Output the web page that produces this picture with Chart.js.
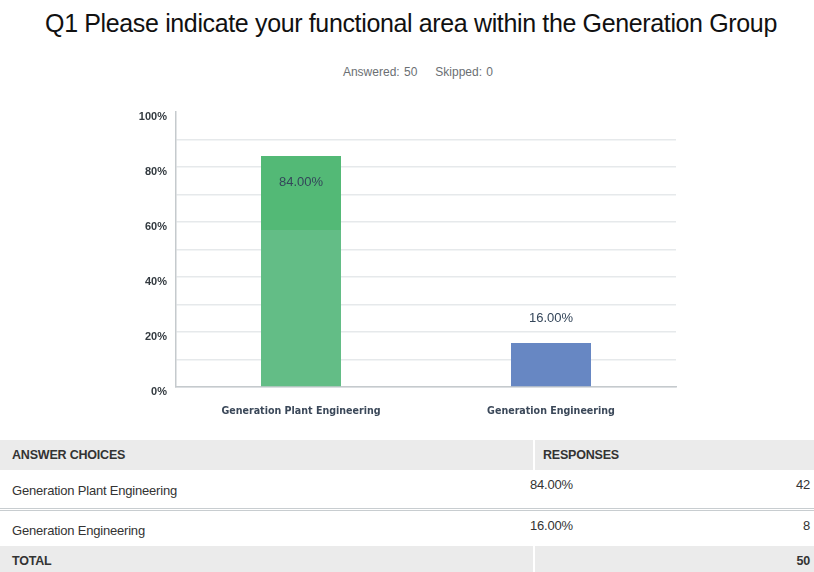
<!DOCTYPE html>
<html>
<head>
<meta charset="utf-8">
<script src="https://cdn.jsdelivr.net/npm/chart.js@4.4.1/dist/chart.umd.min.js"></script>
<style>
  body { margin: 0; width: 814px; height: 572px; background: #fff; position: relative; overflow: hidden; font-family: "Liberation Sans", Arial, sans-serif; }
  #title { position: absolute; top: 9px; left: 4px; width: 814px; text-align: center; font-size: 25px; color: #111; letter-spacing: -0.36px; }
  #sub { position: absolute; top: 65px; left: 0; width: 836px; text-align: center; font-size: 12px; color: #6b6f73; word-spacing: 1px; }
  #sub span { margin: 0 9px; }
  #chartBox { position: absolute; left: 0; top: 90px; width: 814px; height: 340px; }
  #tbl { position: absolute; left: 0; top: 440px; width: 814px; border-collapse: collapse; font-size: 13px; color: #333; line-height: 15px; letter-spacing: -0.2px; }
  #tbl td { padding: 0; vertical-align: middle; box-sizing: border-box; }
  #tbl tr.head td { background: #ebebeb; font-weight: bold; height: 30px; font-size: 12.5px; }
  #tbl tr.total td { background: #ebebeb; font-weight: bold; height: 27px; font-size: 12.5px; padding-top: 3px; }
  #tbl td.c1 { padding-left: 12px; width: 534px; }
  #tbl td.c2 { padding-left: 8px; border-left: 2px solid #fff; }
  #tbl td.c3 { text-align: right; padding-right: 4px; }
  #tbl tr.row td { height: 37px; }
  #tbl tr.row td.c2, #tbl tr.row td.c3 { vertical-align: top; padding-top: 7px; }
  #tbl tr.row td.c2 { border-left: none; padding-left: 0; }
  #tbl tr.row td.c2 span { margin-left: -4px; }
  #tbl tr.row td.c1 { padding-top: 4px; }
  #tbl tr.r1 td { border-bottom: 3px double #c8cdd0; height: 39px; }
</style>
</head>
<body>
<div id="title">Q1 Please indicate your functional area within the Generation Group</div>
<div id="sub"><span>Answered: 50</span><span>Skipped: 0</span></div>
<div id="chartBox"><canvas id="myChart" width="814" height="340"></canvas></div>
<table id="tbl"></table>
<script>
// datos del grafico
const categorias = ["Generation Plant Engineering", "Generation Engineering"];
const porcentajes = [84, 16];
const respuestas = [42, 8];
const total = 50;
const colores = ["#5bbb7e", "#6787c3"];
const yTicks = [0, 20, 40, 60, 80, 100];

// tabla de respuestas
let html = `<tr class="head"><td class="c1">ANSWER CHOICES</td><td class="c2">RESPONSES</td><td class="c3"></td></tr>`;
categorias.forEach((c, i) => {
    html += `<tr class="row r${i + 1}"><td class="c1">${c}</td><td class="c2"><span>${porcentajes[i].toFixed(2)}%</span></td><td class="c3">${respuestas[i]}</td></tr>`;
});
html += `<tr class="total"><td class="c1">TOTAL</td><td class="c2"></td><td class="c3">${total}</td></tr>`;
document.getElementById("tbl").innerHTML = html;

// etiquetas de valor sobre/dentro de las barras
const etiquetas = {
    id: "etiquetas",
    afterDatasetsDraw(chart) {
        const ctx = chart.ctx;
        const meta = chart.getDatasetMeta(0);
        ctx.save();
        ctx.font = "13px 'Liberation Sans', sans-serif";
        ctx.textAlign = "center";
        ctx.textBaseline = "middle";
        meta.data.forEach((bar, i) => {
            const v = porcentajes[i];
            const y = v > 50 ? bar.y + 26 : bar.y - 25;
            ctx.fillStyle = "#34465a";
            ctx.fillText(v.toFixed(2) + "%", bar.x, y);
        });
        ctx.restore();
    }
};

// la barra verde tiene dos tonos en el original
function colorBarra(c) {
    if (c.dataIndex !== 0) return colores[c.dataIndex];
    const chart = c.chart;
    const area = chart.chartArea;
    if (!area) return colores[0];
    const ys = chart.scales.y;
    const corte = (ys.getPixelForValue(57) - area.top) / (area.bottom - area.top);
    const g = chart.ctx.createLinearGradient(0, area.top, 0, area.bottom);
    g.addColorStop(0, "#53b976");
    g.addColorStop(corte, "#53b976");
    g.addColorStop(corte, "#63bd86");
    g.addColorStop(1, "#63bd86");
    return g;
}

const ctx = document.getElementById("myChart");
new Chart(ctx, {
    type: "bar",
    data: {
        labels: categorias,
        datasets: [{
            data: porcentajes,
            backgroundColor: colorBarra,
            borderWidth: 0,
            categoryPercentage: 1,
            barPercentage: 0.32
        }]
    },
    plugins: [etiquetas],
    options: {
        responsive: false,
        animation: false,
        devicePixelRatio: 1,
        layout: { padding: { top: 22, right: 138, left: 0, bottom: 0 } },
        plugins: { legend: { display: false }, tooltip: { enabled: false } },
        scales: {
            x: {
                grid: { display: false },
                border: { color: "#c5cacd", width: 1.5 },
                ticks: {
                    color: "#3b4859",
                    padding: 10,
                    maxRotation: 0,
                    font: { family: "'DejaVu Sans Condensed', 'Liberation Sans', sans-serif", size: 10.6, weight: "bold" }
                },
                afterFit: s => { s.height = 43; }
            },
            y: {
                min: 0,
                max: 100,
                ticks: {
                    stepSize: 10,
                    padding: 9,
                    labelOffset: 5,
                    color: "#333a40",
                    font: { family: "'Liberation Sans', sans-serif", size: 11, weight: "bold" },
                    callback: v => yTicks.includes(v) ? v + "%" : ""
                },
                grid: {
                    drawTicks: false,
                    lineWidth: 1.5,
                    color: c => (c.tick && c.tick.value === 100) ? "rgba(0,0,0,0)" : "#e6e9eb"
                },
                border: { color: "#c5cacd", width: 1.5 },
                afterFit: s => { s.width = 176; }
            }
        }
    }
});
</script>
</body>
</html>
